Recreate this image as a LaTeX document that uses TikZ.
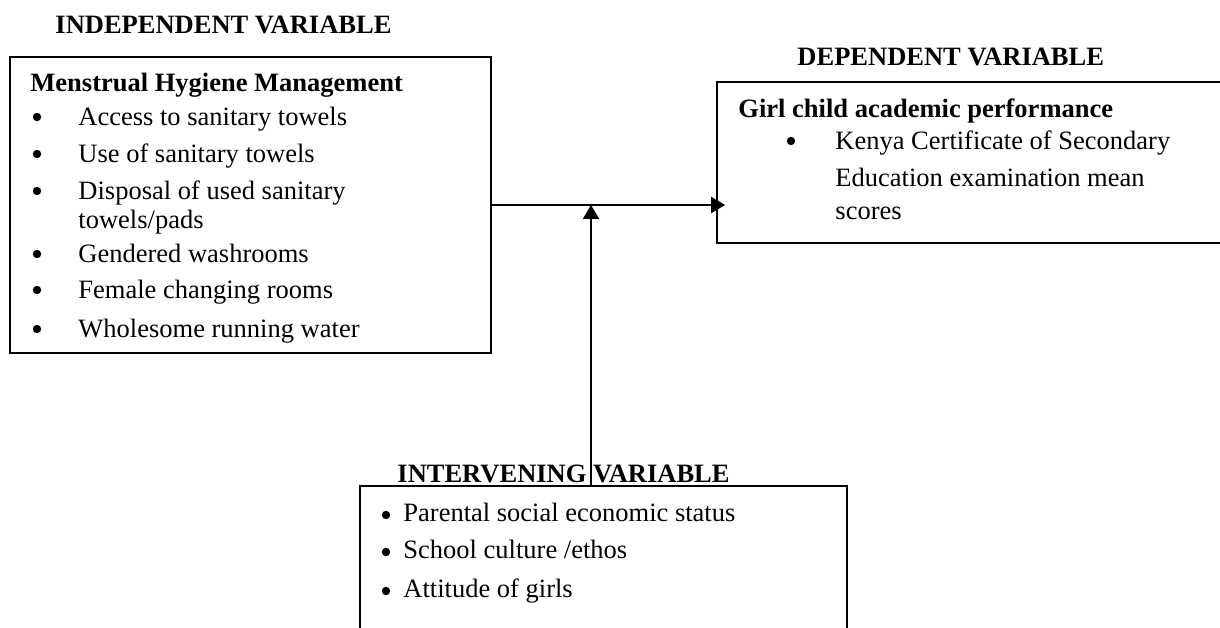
\documentclass[tikz,border=0pt]{standalone}
\usepackage{fontspec}
\setmainfont{Liberation Serif}
\usetikzlibrary{arrows.meta}

\begin{document}
\begin{tikzpicture}[x=0.4528pt,y=-0.4528pt,>={Triangle[length=6.3pt,width=7.2pt]},
        box/.style={draw,line width=0.6pt,inner sep=0pt},
        txt/.style={inner sep=0pt,anchor=base west,font=\fontsize{12}{14}\selectfont},
        hd/.style={inner sep=0pt,anchor=base west,font=\fontsize{12}{14}\selectfont\bfseries},
        dot/.style={circle,fill,inner sep=0pt,minimum size=3.8pt}]
        \useasboundingbox (0,0) rectangle (1220,628);
        % boxes
        \node[box,minimum width=217.8pt,minimum height=134pt] (indep) at (250.5,205) {};
        \node[box,minimum width=229.6pt,minimum height=72.9pt] (dep) at (970.5,162.5) {};
        \node[box,minimum width=220.5pt,minimum height=69.7pt] (interv) at (603.5,563) {};
        % headings
        \node[hd] (indephd) at (55,33) {INDEPENDENT VARIABLE};
        \node[hd] (dephd) at (797,65) {DEPENDENT VARIABLE};
        \node[hd] (intervhd) at (397,482) {INTERVENING VARIABLE};
        % independent variable
        \node[hd] (mhm) at (30,91) {Menstrual Hygiene Management};
        \foreach \t/\y [count=\i] in {Access to sanitary towels/125,Use of sanitary towels/162,
            Disposal of used sanitary/199,Gendered washrooms/262,Female changing rooms/298,
            Wholesome running water/337}{
            \node[dot] (mhmdot\i) at (37,\y-8) {};
            \node[txt] (mhm\i) at (78,\y) {\t};
        }
        \node[txt] (mhmpads) at (78,228) {towels/pads};
        % dependent variable
        \node[hd] (gcap) at (738,117) {Girl child academic performance};
        \node[dot] (gcapdot) at (791,141) {};
        \node[txt] (gcap1) at (835,149) {Kenya Certificate of Secondary};
        \node[txt] (gcap2) at (835,186) {Education examination mean};
        \node[txt] (gcap3) at (835,219) {scores};
        % intervening variable
        \foreach \t/\y [count=\i] in {Parental social economic status/521,
            {School culture /ethos}/558,Attitude of girls/597}{
            \node[dot] (ivdot\i) at (386,\y-6) {};
            \node[txt] (iv\i) at (403,\y) {\t};
        }
        % arrows
        \coordinate (join) at (591,205);
        \draw[->,line width=0.9pt,shorten >=-4pt] (indep.east) -- (dep.west |- indep.east);
        \draw[->,line width=0.9pt] (interv.north -| join) -- (join);
    \end{tikzpicture}
\end{document}
